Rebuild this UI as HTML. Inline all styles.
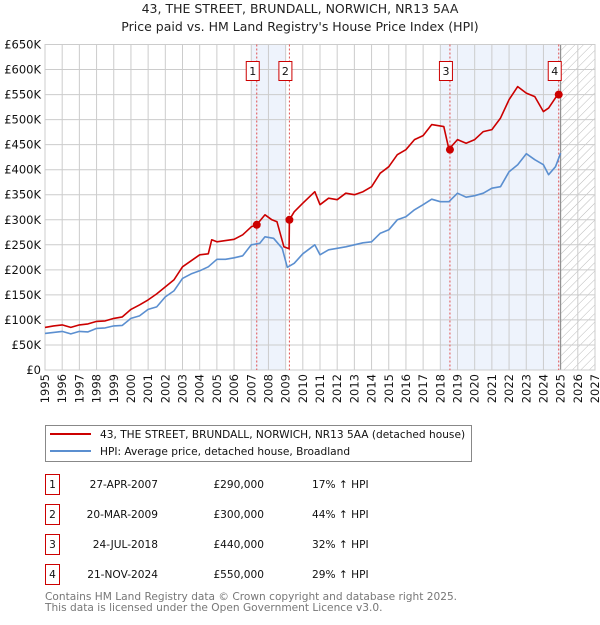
<!DOCTYPE html>
<html><head><meta charset="utf-8"><style>
body{margin:0;background:#fff;font-family:"Liberation Sans","DejaVu Sans",sans-serif}
svg text{font-family:"DejaVu Sans","Liberation Sans",sans-serif}
</style></head><body>
<svg id="c" width="600" height="620" xmlns="http://www.w3.org/2000/svg">
<defs><pattern id="hatch" width="6" height="6" patternUnits="userSpaceOnUse" patternTransform="rotate(45)"><line x1="0" y1="0" x2="0" y2="6" stroke="#bbb" stroke-width="1"/></pattern></defs>
<text x="300" y="13" text-anchor="middle" font-size="12.5" fill="#222">43, THE STREET, BRUNDALL, NORWICH, NR13 5AA</text>
<text x="300" y="31" text-anchor="middle" font-size="12.5" fill="#222">Price paid vs. HM Land Registry's House Price Index (HPI)</text>
<g id="plot"></g>
<g>
<rect x="45.5" y="425.5" width="426" height="36" fill="#fff" stroke="#888"/>
<line x1="50" y1="434" x2="91" y2="434" stroke="#cc0000" stroke-width="2"/>
<text x="100" y="438" font-size="10.6" fill="#111">43, THE STREET, BRUNDALL, NORWICH, NR13 5AA (detached house)</text>
<line x1="50" y1="451" x2="91" y2="451" stroke="#5b8fd0" stroke-width="2"/>
<text x="100" y="455" font-size="10.6" fill="#111">HPI: Average price, detached house, Broadland</text>
</g>
<g id="table" font-size="10.6" fill="#111"></g>
<text x="45" y="600" font-size="10.6" fill="#777">Contains HM Land Registry data © Crown copyright and database right 2025.</text>
<text x="45" y="611" font-size="10.6" fill="#777">This data is licensed under the Open Government Licence v3.0.</text>
</svg>
<script>
const hpiYears=[1995,1995.5,1996,1996.5,1997,1997.5,1998,1998.5,1999,1999.5,2000,2000.5,2001,2001.5,2002,2002.5,2003,2003.5,2004,2004.5,2005,2005.5,2006,2006.5,2007,2007.5,2007.8,2008.3,2008.8,2009.1,2009.5,2010,2010.7,2011,2011.5,2012,2012.5,2013,2013.5,2014,2014.5,2015,2015.5,2016,2016.5,2017,2017.5,2018,2018.5,2019,2019.5,2020,2020.5,2021,2021.5,2022,2022.5,2023,2023.5,2024,2024.3,2024.7,2025];
const hpiValues=[73,75,77,72,77,76,83,84,88,89,103,108,121,126,146,158,183,192,198,206,221,221,224,228,250,253,266,263,243,205,213,232,250,230,240,243,246,250,254,256,273,280,300,306,320,330,341,336,336,353,345,348,353,363,366,396,410,432,420,410,390,406,433];
const propYears=[1995,1995.5,1996,1996.5,1997,1997.5,1998,1998.5,1999,1999.5,2000,2000.5,2001,2001.5,2002,2002.5,2003,2003.5,2004,2004.5,2004.7,2005,2006,2006.5,2007,2007.32,2007.8,2008.2,2008.5,2008.9,2009.2,2009.22,2009.5,2010,2010.7,2011,2011.5,2012,2012.5,2013,2013.5,2014,2014.5,2015,2015.5,2016,2016.5,2017,2017.5,2018.2,2018.5,2019,2019.5,2020,2020.5,2021,2021.5,2022,2022.5,2023,2023.5,2024,2024.3,2024.89];
const propValues=[85,88,90,85,90,92,97,98,103,106,121,130,140,152,166,180,206,218,230,232,260,256,261,270,286,290,310,300,296,246,242,300,316,333,356,330,343,340,353,350,356,366,393,406,430,440,460,468,490,486,441,460,453,460,476,480,503,540,566,553,546,516,523,553];
const saleYears=[2007.32,2009.22,2018.56,2024.89];
const saleValues=[290,300,440,550];
const saleLabels=["1","2","3","4"];
const saleDates=["27-APR-2007","20-MAR-2009","24-JUL-2018","21-NOV-2024"];
const salePrices=["£290,000","£300,000","£440,000","£550,000"];
const saleDiffs=["17% ↑ HPI","44% ↑ HPI","32% ↑ HPI","29% ↑ HPI"];
const yTicks=[0,50,100,150,200,250,300,350,400,450,500,550,600,650];
const yTickLabels=["£0","£50K","£100K","£150K","£200K","£250K","£300K","£350K","£400K","£450K","£500K","£550K","£600K","£650K"];
const xTicks=[1995,1996,1997,1998,1999,2000,2001,2002,2003,2004,2005,2006,2007,2008,2009,2010,2011,2012,2013,2014,2015,2016,2017,2018,2019,2020,2021,2022,2023,2024,2025,2026,2027];
const shadeRanges=[[2007,2009.0],[2018,2025]];

const X0=45,X1=595,Y0=370,Y1=44.5;
const xs=y=>X0+(y-1995)/(2027-1995)*(X1-X0);
const ys=v=>Y0-v/650*(Y0-Y1);
const NS="http://www.w3.org/2000/svg";
function mk(tag,attrs,parent,text){const e=document.createElementNS(NS,tag);for(const k in attrs)e.setAttribute(k,attrs[k]);if(text!==undefined)e.textContent=text;parent.appendChild(e);return e;}
const g=document.getElementById('plot');
shadeRanges.forEach((r,i)=>{const e=mk('rect',{x:xs(r[0]),y:Y1,width:xs(r[1])-xs(r[0]),height:Y0-Y1,fill:'#eef3fc'},g);

});
const h=mk('rect',{x:xs(2025),y:Y1,width:X1-xs(2025),height:Y0-Y1,fill:'url(#hatch)'},g);


yTicks.forEach((t,i)=>{mk('line',{x1:X0,x2:X1,y1:ys(t),y2:ys(t),stroke:'#ccc'},g);
const tx=mk('text',{x:X0-4,y:ys(t)+4,'text-anchor':'end','font-size':'11.5',fill:'#111'},g,yTickLabels[i]);

});
xTicks.forEach(t=>{mk('line',{x1:xs(t),x2:xs(t),y1:Y1,y2:Y0,stroke:'#ccc'},g);
const tx=mk('text',{x:0,y:0,transform:`translate(${xs(t)+4},${Y0+4}) rotate(-90)`,'text-anchor':'end','font-size':'11.5',fill:'#111'},g,String(t));

});
mk('line',{x1:xs(2025),x2:xs(2025),y1:Y1,y2:Y0,stroke:'#888'},g);
mk('rect',{x:X0,y:Y1,width:X1-X0,height:Y0-Y1,fill:'none',stroke:'#ccc'},g);
saleYears.forEach((y,i)=>{const l=mk('line',{x1:xs(y),x2:xs(y),y1:Y1,y2:Y0,stroke:'#e05050','stroke-dasharray':'2,2'},g);

});
function path(xa,va,col,name){const d=xa.map((x,i)=>(i?'L':'M')+xs(x).toFixed(1)+','+ys(va[i]).toFixed(1)).join('');
const p=mk('path',{d:d,fill:'none',stroke:col,'stroke-width':1.6,'stroke-linejoin':'round'},g);

}
path(hpiYears,hpiValues,'#5b8fd0','hpi-line');
path(propYears,propValues,'#cc0000','property-line');
saleYears.forEach((y,i)=>{const c=mk('circle',{cx:xs(y),cy:ys(saleValues[i]),r:4,fill:'#cc0000'},g);


const bx=xs(y)-4;
const b=mk('g',{},g);


mk('rect',{x:bx-6.5,y:61.5,width:13,height:19,fill:'#fff',stroke:'#cc0000'},b);
mk('text',{x:bx,y:75,'text-anchor':'middle','font-size':'11',fill:'#111'},b,saleLabels[i]);});
const tb=document.getElementById('table');
saleLabels.forEach((s,i)=>{const cy=484+i*30;
const row=mk('g',{},tb);


mk('rect',{x:45.5,y:cy-9.5,width:14,height:20,fill:'#fff',stroke:'#cc0000'},row);
mk('text',{x:52.5,y:cy+4,'text-anchor':'middle'},row,s);
mk('text',{x:158,y:cy+4,'text-anchor':'end'},row,saleDates[i]);
mk('text',{x:264,y:cy+4,'text-anchor':'end'},row,salePrices[i]);
mk('text',{x:312,y:cy+4},row,saleDiffs[i]);});
</script>
</body></html>
